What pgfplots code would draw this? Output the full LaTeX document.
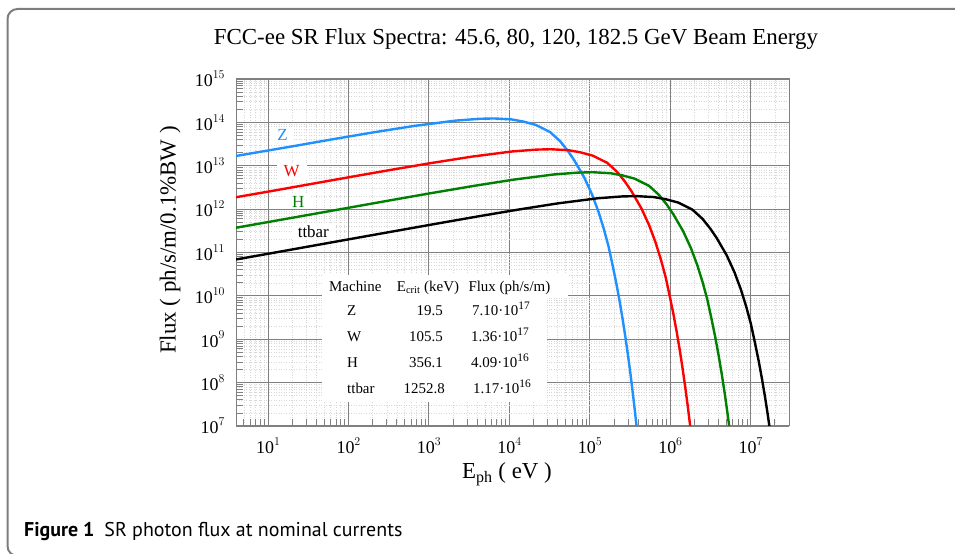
\documentclass[border=0pt]{standalone}
\usepackage{pgfplots}
\pgfplotsset{compat=1.18}
\usepackage{fontspec}
\setmainfont{Liberation Serif}
\newfontfamily\capfont{PT Sans}

\definecolor{zblue}{RGB}{30,144,255}
\definecolor{wred}{RGB}{255,0,0}
\definecolor{hgreen}{RGB}{0,128,0}
\definecolor{majgrid}{RGB}{128,128,128}
\definecolor{mingrid}{RGB}{215,215,215}
\definecolor{framegray}{RGB}{125,125,125}

\newcommand{\fs}[1]{\fontsize{#1}{#1}\selectfont}
\newcommand{\tsup}[1]{\raisebox{0.45em}{\fs{13}#1}}
\newcommand{\vsup}[1]{\raisebox{0.42em}{\fs{11.5}#1}}

\begin{document}
\begin{tikzpicture}[x=1bp,y=1bp]
\useasboundingbox (0,0) rectangle (955,554);
% frame and title
\draw[framegray, line width=2bp, rounded corners=10bp] (970,545) -- (7.5,545) -- (7.5,-2) -- (970,-2);
\node[anchor=base, font=\fs{23}, inner sep=0pt] at (516,509) {FCC-ee SR Flux Spectra: 45.6, 80, 120, 182.5 GeV Beam Energy};

\begin{axis}[
  at={(236bp,128bp)}, anchor=south west,
  scale only axis, width=553bp, height=347bp,
  xmode=log, ymode=log, log basis x=10, log basis y=10,
  xmin=4, xmax=3e7, ymin=1e7, ymax=1e15,
  xtick={10,100,1000,1e4,1e5,1e6,1e7},
  ytick={1e7,1e8,1e9,1e10,1e11,1e12,1e13,1e14,1e15},
  minor xtick={5,6,7,8,9,20,30,40,50,60,70,80,90,200,300,400,500,600,700,800,900,
    2000,3000,4000,5000,6000,7000,8000,9000,2e4,3e4,4e4,5e4,6e4,7e4,8e4,9e4,
    2e5,3e5,4e5,5e5,6e5,7e5,8e5,9e5,2e6,3e6,4e6,5e6,6e6,7e6,8e6,9e6,2e7},
  minor ytick={2e7,3e7,4e7,5e7,6e7,7e7,8e7,9e7,2e8,3e8,4e8,5e8,6e8,7e8,8e8,9e8,
    2e9,3e9,4e9,5e9,6e9,7e9,8e9,9e9,2e10,3e10,4e10,5e10,6e10,7e10,8e10,9e10,
    2e11,3e11,4e11,5e11,6e11,7e11,8e11,9e11,2e12,3e12,4e12,5e12,6e12,7e12,8e12,9e12,
    2e13,3e13,4e13,5e13,6e13,7e13,8e13,9e13,2e14,3e14,4e14,5e14,6e14,7e14,8e14,9e14},
  xticklabel={10\tsup{\pgfmathprintnumber[fixed,precision=0]{\tick}}},
  yticklabel={10\tsup{\pgfmathprintnumber[fixed,precision=0]{\tick}}},
  tick label style={font=\fs{18}, black},
  xticklabel style={yshift=-8bp},
  yticklabel style={xshift=-8bp},
  xtick pos=bottom, ytick pos=left, tick align=inside,
  major tick length=0bp, minor tick length=7bp,
  tick style={majgrid, line width=0.8bp},
  grid=both,
  major grid style={majgrid, line width=0.9bp},
  minor grid style={mingrid, dash pattern=on 1bp off 1.5bp, line width=0.6bp},
  axis line style={majgrid, line width=1bp},
]
% Z, 45.6 GeV
\addplot[zblue, line width=2.4bp] coordinates {
(4,1.68e13) (21.38,2.856e13) (67.6,4.154e13) (213.8,5.962e13) (676,8.342e13)
(2138,1.096e14) (4276,1.208e14) (6414,1.230e14) (10690,1.167e14) (14966,1.042e14)
(21380,8.728e13) (32070,5.995e13) (42760,3.689e13) (53450,2.197e13) (64140,1.336e13)
(85520,5.332e12) (106900,2.162e12) (128280,8.728e11) (149660,3.482e11) (171040,1.392e11)
(192420,5.057e10) (213800,1.950e10) (235180,7.480e9) (256560,2.863e9) (277940,1.094e9)
(299320,4.159e8) (320700,1.581e8) (342080,5.983e7) (363460,2.264e7) (384840,8.549e6)};
% W, 80 GeV
\addplot[wred, line width=2.4bp] coordinates {
(4,1.88e12) (10.97,2.603e12) (109.65,5.570e12) (346.7,8.101e12) (1096.5,1.163e13)
(3467,1.627e13) (10965,2.138e13) (21930,2.356e13) (32895,2.399e13) (54825,2.276e13)
(76755,2.032e13) (109650,1.702e13) (164475,1.169e13) (219300,7.195e12) (274125,4.285e12)
(328950,2.605e12) (438600,1.040e12) (548250,4.217e11) (657900,1.702e11) (767550,6.792e10)
(877200,2.716e10) (986850,9.862e9) (1096500,3.802e9) (1206150,1.459e9) (1315800,5.585e8)
(1425450,2.133e8) (1535100,8.111e7) (1644750,3.083e7) (1754400,1.167e7) (1864050,4.417e6)};
% H, 120 GeV
\addplot[hgreen, line width=2.4bp] coordinates {
(4,3.72e11) (36.31,7.682e11) (363.1,1.644e12) (1148,2.391e12) (3631,3.431e12)
(11482,4.801e12) (36310,6.310e12) (72620,6.952e12) (108930,7.079e12) (181550,6.715e12)
(254170,5.996e12) (363100,5.023e12) (544650,3.450e12) (726200,2.123e12) (907750,1.264e12)
(1089300,7.688e11) (1452400,3.069e11) (1815500,1.245e11) (2178600,5.023e10) (2541700,2.004e10)
(2904800,8.013e9) (3267900,2.910e9) (3631000,1.122e9) (3994100,4.305e8) (4357200,1.648e8)
(4720300,6.295e7) (5083400,2.393e7) (5446500,9.097e6)};
% ttbar, 182.5 GeV
\addplot[black, line width=2.4bp] coordinates {
(4,6.90e10) (12.59,1.007e11) (125.9,2.165e11) (1258.9,4.632e11) (3981,6.737e11)
(12589,9.670e11) (39810,1.353e12) (125890,1.778e12) (251780,1.959e12) (377670,1.995e12)
(629450,1.892e12) (881230,1.690e12) (1258900,1.416e12) (1888350,9.724e11) (2517800,5.983e11)
(3147250,3.563e11) (3776700,2.167e11) (5035600,8.648e10) (6294500,3.507e10) (7553400,1.416e10)
(8812300,5.648e9) (10071200,2.258e9) (11330100,8.201e8) (12589000,3.162e8) (13847900,1.213e8)
(15106800,4.644e7) (16365700,1.774e7) (17624600,6.745e6)};

\node[zblue, fill=white, font=\fs{17}, inner xsep=6bp, inner ysep=2bp] at (axis cs:15.2,5.1e13) {Z};
\node[wred, fill=white, font=\fs{17}, inner xsep=7bp, inner ysep=2bp] at (axis cs:19.7,7.5e12) {W};
\node[hgreen, fill=white, font=\fs{17}, inner xsep=7bp, inner ysep=2bp] at (axis cs:23.8,1.47e12) {H};
\node[black, fill=white, font=\fs{17}, inner xsep=6bp, inner ysep=2bp] at (axis cs:36.6,2.97e11) {ttbar};
\end{axis}

% axis titles
\node[rotate=90, font=\fs{23}, inner sep=0pt] at (170,314) {Flux ( ph/s/m/0.1\%BW )};
\node[anchor=base, font=\fs{23}, inner sep=0pt] at (507,75) {E\textsubscript{ph} ( eV )};

% machine table
\fill[white] (322,256) rectangle (568,279);
\fill[white] (322,152) rectangle (547,256.5);
\begin{scope}[font=\fs{15}, inner sep=0pt]
\node[anchor=base west] at (329,262.3) {Machine};
\node[anchor=base west] at (396.7,262.3) {E\textsubscript{crit} (keV)};
\node[anchor=base west] at (468.3,262.3) {Flux (ph/s/m)};
\node[anchor=base west] at (347,238) {Z};
\node[anchor=base west] at (347,212) {W};
\node[anchor=base west] at (347,186) {H};
\node[anchor=base west] at (347,160) {ttbar};
\node[anchor=base east] at (443,238) {19.5};
\node[anchor=base east] at (443,212) {105.5};
\node[anchor=base east] at (443,186) {356.1};
\node[anchor=base east] at (445,160) {1252.8};
\node[anchor=base west] at (472,238) {7.10·10\vsup{17}};
\node[anchor=base west] at (471,212) {1.36·10\vsup{17}};
\node[anchor=base west] at (471,186) {4.09·10\vsup{16}};
\node[anchor=base west] at (473,160) {1.17·10\vsup{16}};
\end{scope}

% caption
\node[anchor=base west, font=\capfont\fs{20}, inner sep=0pt] at (24,17) {\textbf{Figure 1}\hspace{0.5em}SR photon flux at nominal currents};
\end{tikzpicture}
\end{document}
